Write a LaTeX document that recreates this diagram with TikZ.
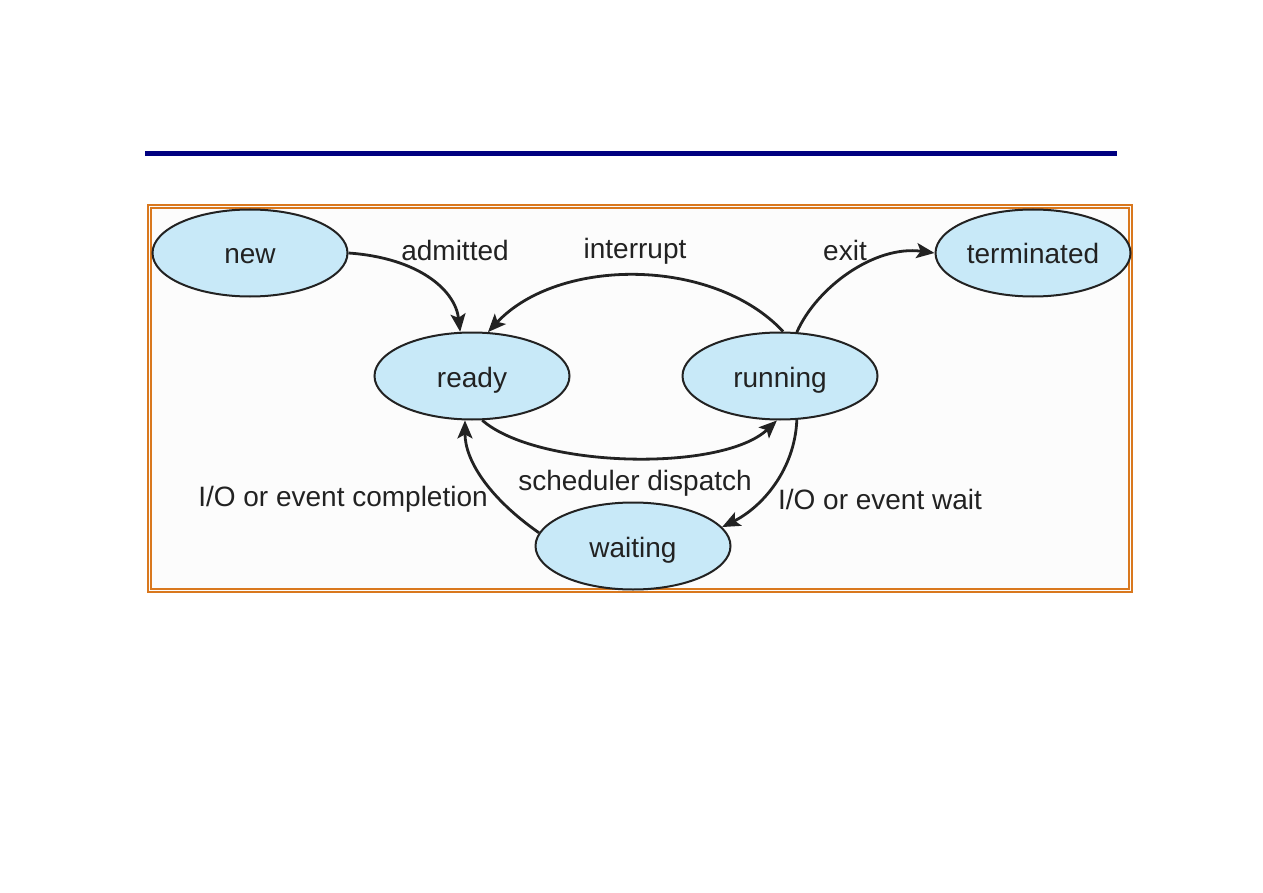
\documentclass[tikz,border=0pt]{standalone}
\usepackage{fontspec}
\setmainfont{Liberation Sans}
\usetikzlibrary{shapes.geometric,arrows.meta}
\definecolor{statefill}{HTML}{C8E9F8}
\definecolor{ink}{HTML}{222222}
\definecolor{frameorange}{HTML}{D9781E}
\definecolor{rulenavy}{HTML}{000080}
\begin{document}
\begin{tikzpicture}[x=1pt,y=-1pt,
  state/.style={ellipse,draw=ink,line width=2pt,fill=statefill,minimum width=195pt,minimum height=87pt,inner sep=0pt,text=ink,text height=25pt,text depth=3pt,font=\fontsize{28}{32}\selectfont},
  lbl/.style={text=ink,font=\fontsize{28}{32}\selectfont,inner sep=0pt},
  trans/.style={draw=ink,line width=2.8pt,-{Stealth[length=18pt,width=15pt,inset=4pt]}}]
\useasboundingbox[fill=white] (0,0) rectangle (1263,893);
\fill[rulenavy] (145,151) rectangle (1117,156);
\draw[frameorange,line width=2pt,fill=white!99!black] (148,205) rectangle (1132,592);
\draw[frameorange,line width=1.5pt] (151,208) rectangle (1129,589);
\node[state] (new) at (250,253) {new};
\node[state] (term) at (1033,253) {terminated};
\node[state] (ready) at (472,376) {ready};
\node[state] (run) at (780,376) {running};
\node[state] (wait) at (633,546) {waiting};
\draw[trans] (new.east) .. controls +(70,5) and +(-5,-42) .. (ready.105);
\draw[trans] (run.86) .. controls +(-70,-75) and +(70,-75) .. (ready.70);
\draw[trans] (run.69) .. controls +(20,-45) and +(-60,-8) .. (term.west);
\draw[trans] (ready.283) .. controls +(55,48) and +(-55,52) .. (run.266);
\draw[trans] (run.291) .. controls +(-2,50) and +(40,-20) .. (wait.12);
\draw[trans] (wait.172) .. controls +(-50,-35) and +(0,40) .. (ready.261);
\node[lbl] at (455,250) {admitted};
\node[lbl] at (635,251) {interrupt};
\node[lbl] at (845,250) {exit};
\node[lbl] at (635,483) {scheduler dispatch};
\node[lbl] at (343,499) {I/O or event completion};
\node[lbl] at (880,499) {I/O or event wait};
\end{tikzpicture}
\end{document}
